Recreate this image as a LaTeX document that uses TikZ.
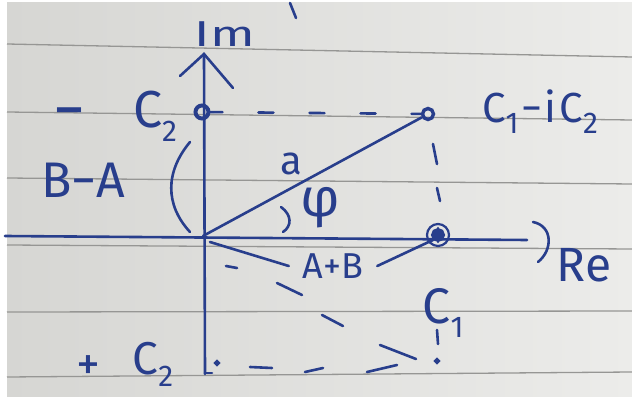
\documentclass[tikz,border=0pt]{standalone}
\usepackage{fontspec}
\setmainfont{Fira Sans}
\definecolor{ink}{RGB}{40,62,140}
\definecolor{paperL}{RGB}{214,214,211}
\definecolor{paperR}{RGB}{236,236,234}
\definecolor{rulec}{RGB}{150,150,148}
\newcommand\sbs[1]{\raisebox{-0.5ex}{\fontsize{30}{30}\selectfont #1}}
\newcommand\fs[1]{\fontsize{#1}{#1}\selectfont}
\begin{document}
\begin{tikzpicture}[x=1pt,y=-1pt,
  ink/.style={draw=ink,line width=2.6pt,line cap=round},
  lbl/.style={text=ink,inner sep=0pt},
  ptc/.style={circle,draw=ink,line width=3pt,inner sep=0pt,minimum size=#1},
  ]
\useasboundingbox (0,0) rectangle (632,398);
\fill[white] (0,0) rectangle (632,398);
\shade[left color=paperL,right color=paperR] (7,3) rectangle (632,396);
\foreach \a/\b in {44/57,112/120,178/184,245/249,312/311,377/372}
  \draw[rulec,line width=1.3pt] (7,\a) -- (632,\b);

% axes
\coordinate (reL) at (5,236);
\coordinate (reR) at (527,240);
\coordinate (imB) at (205,374);
\coordinate (imT) at (204,54);
\coordinate (O) at (203,236);
\draw[ink] (reL) -- (reR);
\draw[ink] (imB) -- (imT);
\draw[ink] (180,76) -- (imT) -- (233,88);
\draw[ink] (533,222) .. controls (553,226) and (553,250) .. (538,262);
\draw[ink] (290,3) -- (296,18);

% points
\node[ptc=13pt,line width=4pt] (P1) at (202,112) {};
\node[ptc=11pt,line width=3.4pt] (P2) at (428,114) {};
\node[ptc=22pt,line width=2.2pt] (C1o) at (438,235) {};
\node[ptc=11pt,fill=ink] (C1) at (438,235) {};
\draw[ink] (C1.north) -- ++(0,14);
\coordinate (P4) at (205,372);
\coordinate (Q) at (437,366);

% labels
\node[lbl,font=\fs{36}] (imlbl) at (225,34) {\scalebox{1.45}[1]{Im}};
\node[lbl,font=\fs{48}] (relbl) at (584,265) {Re};
\node[lbl,font=\fs{64}] (mtop) at (69,120) {−};
\node[lbl,font=\fs{52}] (c2top) at (155,116) {C\sbs{2}};
\node[lbl,font=\fs{50}] (ba) at (83,180) {B−A};
\node[lbl,font=\fs{40}] (alab) at (291,164) {a};
\node[lbl,font=\fs{54}] (phi) at (320,208) {φ};
\node[lbl,font=\fs{36},inner xsep=14pt] (ab) at (333,266) {A+B};
\node[lbl,font=\fs{50}] (c1lbl) at (443,313) {C\sbs{1}};
\node[lbl,font=\fs{42}] (c1ic2) at (540,112) {C\sbs{1}\hspace{3pt}−\hspace{2pt}i\hspace{3pt}C\sbs{2}};
\node[lbl,font=\fs{48}] (pbot) at (88,368) {+};
\node[lbl,font=\fs{46}] (c2bot) at (153,364) {C\sbs{2}};

% connectors
\draw[ink] (O) -- (P2);
\draw[ink,dash pattern=on 15pt off 36pt,dash phase=-48pt] (P1) -- (P2);
\draw[ink] (210,242) -- (ab.west);
\draw[ink] (ab.east) -- (C1.south west);
\draw[ink] (281,207) .. controls (292,215) and (292,226) .. (283,232);
\draw[ink] (190,142) .. controls (165,172) and (165,205) .. (190,232);

% vertical dashes
\draw[ink] (433,144) -- (437,164);
\draw[ink] (437,188) -- (440,201);
\draw[ink] (437,330) -- (438,344);
\fill[ink] (437,361) circle (1.8);
\fill[ink] (217,363) circle (1.8);
\draw[ink] (205,373) -- (212,373);

% lower dashes
\draw[ink] (226,266) -- (237,268);
\draw[ink] (277,283) -- (302,295);
\draw[ink] (322,315) -- (343,326);
\draw[ink] (380,345) -- (416,359);
\draw[ink] (250,367) -- (272,368);
\draw[ink] (305,372) -- (323,368);
\draw[ink] (367,372) -- (397,365);
\end{tikzpicture}
\end{document}
